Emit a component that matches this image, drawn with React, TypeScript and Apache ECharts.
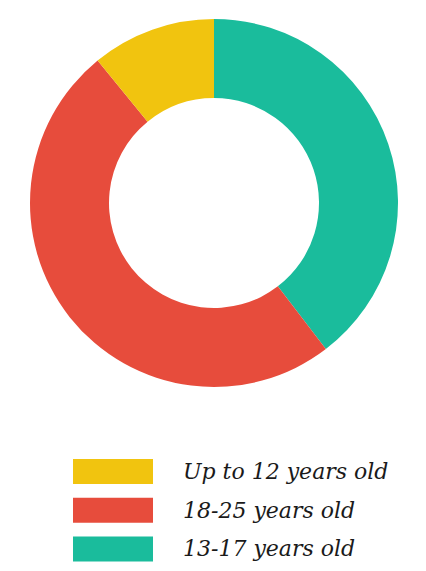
import React, { useEffect, useRef } from "react";
import * as echarts from "echarts";

const categories = ["13-17 years old", "18-25 years old", "Up to 12 years old"];
const values = [39.6, 49.5, 10.9];
const colors = ["#1ABC9C", "#E74C3C", "#F1C40F"];
const legendOrder = ["Up to 12 years old", "18-25 years old", "13-17 years old"];

export default function App() {
  const ref = useRef<HTMLDivElement>(null);
  useEffect(() => {
    if (!ref.current) return;
    const chart = echarts.init(ref.current, null, { renderer: "svg" });
    chart.setOption({
      animation: false,
      backgroundColor: "#ffffff",
      legend: {
        orient: "vertical",
        left: 73,
        top: 459,
        height: 110,
        padding: 0,
        itemWidth: 80,
        itemHeight: 25,
        itemGap: 13.7,
        icon: "rect",
        selectedMode: false,
        data: legendOrder,
        textStyle: {
          fontFamily: "DejaVu Serif",
          fontStyle: "italic",
          fontSize: 22,
          color: "#1a1a1a",
          lineHeight: 25,
          padding: [0, 0, 0, 25],
        },
      },
      series: [
        {
          type: "pie",
          center: [214, 203],
          radius: [105, 184],
          startAngle: 90,
          clockwise: true,
          label: { show: false },
          labelLine: { show: false },
          emphasis: { disabled: true },
          data: categories.map((name, i) => ({
            name,
            value: values[i],
            itemStyle: { color: colors[i] },
          })),
        },
      ],
    });
    return () => chart.dispose();
  }, []);
  return (
    <div
      ref={ref}
      style={{ position: "fixed", left: 0, top: 0, width: 426, height: 571 }}
    />
  );
}
